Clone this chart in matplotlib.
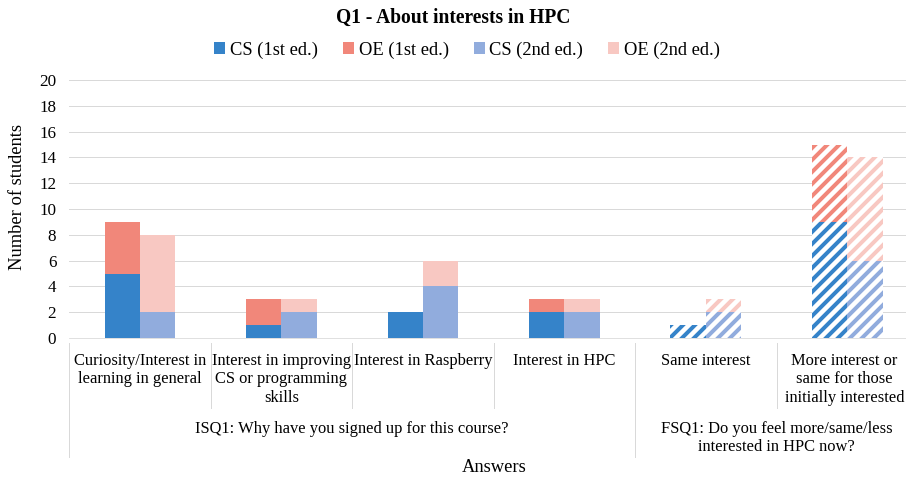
import matplotlib.pyplot as plt
import numpy as np

plt.rcParams['font.family'] = ['Liberation Serif', 'DejaVu Serif']
plt.rcParams['hatch.linewidth'] = 4.0

# data
answers = ['Curiosity/Interest in\nlearning in general',
           'Interest in improving\nCS or programming\nskills',
           'Interest in Raspberry',
           'Interest in HPC',
           'Same interest',
           'More interest or\nsame for those\ninitially interested']
cs_1st = [5, 1, 2, 2, 1, 9]
oe_1st = [4, 2, 0, 1, 0, 6]
cs_2nd = [2, 2, 4, 2, 2, 6]
oe_2nd = [6, 1, 2, 1, 1, 8]
hatched = [False, False, False, False, True, True]
groups = ['ISQ1: Why have you signed up for this course?',
          'FSQ1: Do you feel more/same/less\ninterested in HPC now?']
group_spans = [(-0.5, 3.5), (3.5, 5.5)]

c_cs1 = '#3583C9'
c_oe1 = '#F1877A'
c_cs2 = '#91ACDD'
c_oe2 = '#F8C8C2'

W, H = 906, 481
fig = plt.figure(figsize=(W / 72, H / 72), dpi=72)
ax = fig.add_axes([69.3 / W, 1 - 338 / H, (918 - 69.3) / W, (338 - 80) / H])

x = np.arange(len(answers))
bw = 0.25


def draw(xpos, vals, bottom, color, label):
    for i in range(len(vals)):
        if vals[i] == 0:
            continue
        if hatched[i]:
            ax.bar(xpos[i], vals[i], bw, bottom=bottom[i], facecolor='white',
                   edgecolor=color, linewidth=0, hatch='//', zorder=3)
        else:
            ax.bar(xpos[i], vals[i], bw, bottom=bottom[i], color=color,
                   linewidth=0, zorder=3)
    ax.bar([0], [0], color=color, label=label)


zeros = [0] * len(answers)
draw(x - bw / 2, cs_1st, zeros, c_cs1, 'CS (1st ed.)')
draw(x - bw / 2, oe_1st, cs_1st, c_oe1, 'OE (1st ed.)')
draw(x + bw / 2, cs_2nd, zeros, c_cs2, 'CS (2nd ed.)')
draw(x + bw / 2, oe_2nd, cs_2nd, c_oe2, 'OE (2nd ed.)')

ax.set_xlim(-0.5, 5.5)
ax.set_ylim(0, 20)
ax.set_yticks(range(0, 21, 2))
ax.yaxis.grid(True, color='#D9D9D9', linewidth=1)
ax.set_axisbelow(True)
for s in ['top', 'right', 'left']:
    ax.spines[s].set_visible(False)
ax.spines['bottom'].set_color('#D9D9D9')
ax.set_xticks([])
ax.tick_params(axis='y', length=0, pad=13, labelsize=17)

# multi-level category axis
tr = ax.get_xaxis_transform()
axh = 338 - 80
for b in [0.5, 1.5, 2.5, 4.5]:
    ax.plot([b, b], [-5 / axh, -70 / axh], color='#D9D9D9', lw=1,
            transform=tr, clip_on=False)
for b in [-0.5, 3.5]:
    ax.plot([b, b], [-5 / axh, -119 / axh], color='#D9D9D9', lw=1,
            transform=tr, clip_on=False)

for i, lab in enumerate(answers):
    ax.annotate(lab, (x[i] - (0.02 if i == 5 else 0), 0),
                xycoords=('data', 'axes fraction'),
                xytext=(0, -15), textcoords='offset points',
                ha='center', va='top', fontsize=16.5, linespacing=1.2)
for (a, b), lab in zip(group_spans, groups):
    ax.annotate(lab, ((a + b) / 2, 0), xycoords=('data', 'axes fraction'),
                xytext=(0, -83), textcoords='offset points',
                ha='center', va='top', fontsize=16.5, linespacing=1.2)

fig.text(493.7 / W, 1 - 468 / H, 'Answers', ha='center', va='center', fontsize=18.5)
fig.text(18 / W, 1 - 197 / H, 'Number of students', ha='center', va='center',
         rotation=90, fontsize=18.5)
fig.text(453 / W, 1 - 18 / H, 'Q1 - About interests in HPC', ha='center',
         va='center', fontsize=19.5, fontweight='bold')

fig.legend(loc='center', bbox_to_anchor=(467 / W, 1 - 50 / H), ncol=4,
           frameon=False, fontsize=18.5, handlelength=0.6, handleheight=0.6,
           handletextpad=0.25, columnspacing=1.35)

fig.savefig('out.png', dpi=72)
